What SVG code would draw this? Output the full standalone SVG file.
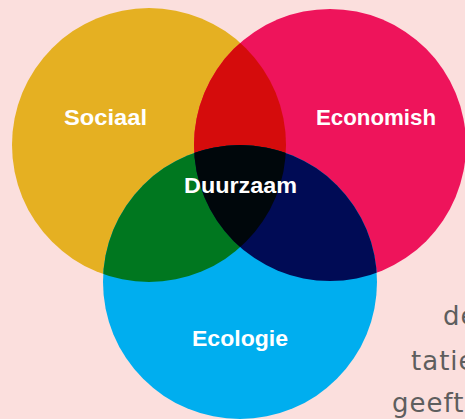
<svg xmlns="http://www.w3.org/2000/svg" width="465" height="419" viewBox="0 0 465 419">
  <style>
    .lbl { font-family: "Liberation Sans", Arial, sans-serif; font-weight: bold; font-size: 22px; fill: #ffffff; }
    .side { font-family: "DejaVu Sans", "Liberation Sans", sans-serif; font-size: 26px; fill: #5e5e5e; letter-spacing: 1px; }
  </style>
  <defs>
    <clipPath id="cY"><circle cx="149" cy="145" r="137"/></clipPath>
    <clipPath id="cP"><circle cx="330" cy="145" r="136"/></clipPath>
    <clipPath id="cB"><circle cx="240" cy="282" r="137"/></clipPath>
  </defs>
  <rect width="465" height="419" fill="#fbdfdd"/>
  <g id="side-text">
    <text class="side" x="443" y="325">de</text>
    <text class="side" x="411" y="370">tatie</text>
    <text class="side" x="392" y="412">geeft</text>
  </g>
  <g id="sociaal">
    <circle cx="149" cy="145" r="137" fill="#e5b022"/>
  </g>
  <g id="economish">
    <circle cx="330" cy="145" r="136" fill="#ee145b"/>
  </g>
  <g id="ecologie">
    <circle cx="240" cy="282" r="137" fill="#00aeef"/>
  </g>
  <g id="overlaps">
    <circle cx="330" cy="145" r="136" fill="#d50c0c" clip-path="url(#cY)"/>
    <circle cx="240" cy="282" r="137" fill="#00771f" clip-path="url(#cY)"/>
    <circle cx="240" cy="282" r="137" fill="#000b55" clip-path="url(#cP)"/>
    <g clip-path="url(#cY)">
      <circle cx="240" cy="282" r="137" fill="#00070b" clip-path="url(#cP)"/>
    </g>
  </g>
  <g id="labels">
    <text class="lbl" x="64" y="125" textLength="83" lengthAdjust="spacingAndGlyphs">Sociaal</text>
    <text class="lbl" x="316" y="125" textLength="120" lengthAdjust="spacingAndGlyphs">Economish</text>
    <text class="lbl" x="184" y="193" textLength="113" lengthAdjust="spacingAndGlyphs">Duurzaam</text>
    <text class="lbl" x="192" y="346" textLength="96" lengthAdjust="spacingAndGlyphs">Ecologie</text>
  </g>
  <g id="connectors"/>
</svg>
